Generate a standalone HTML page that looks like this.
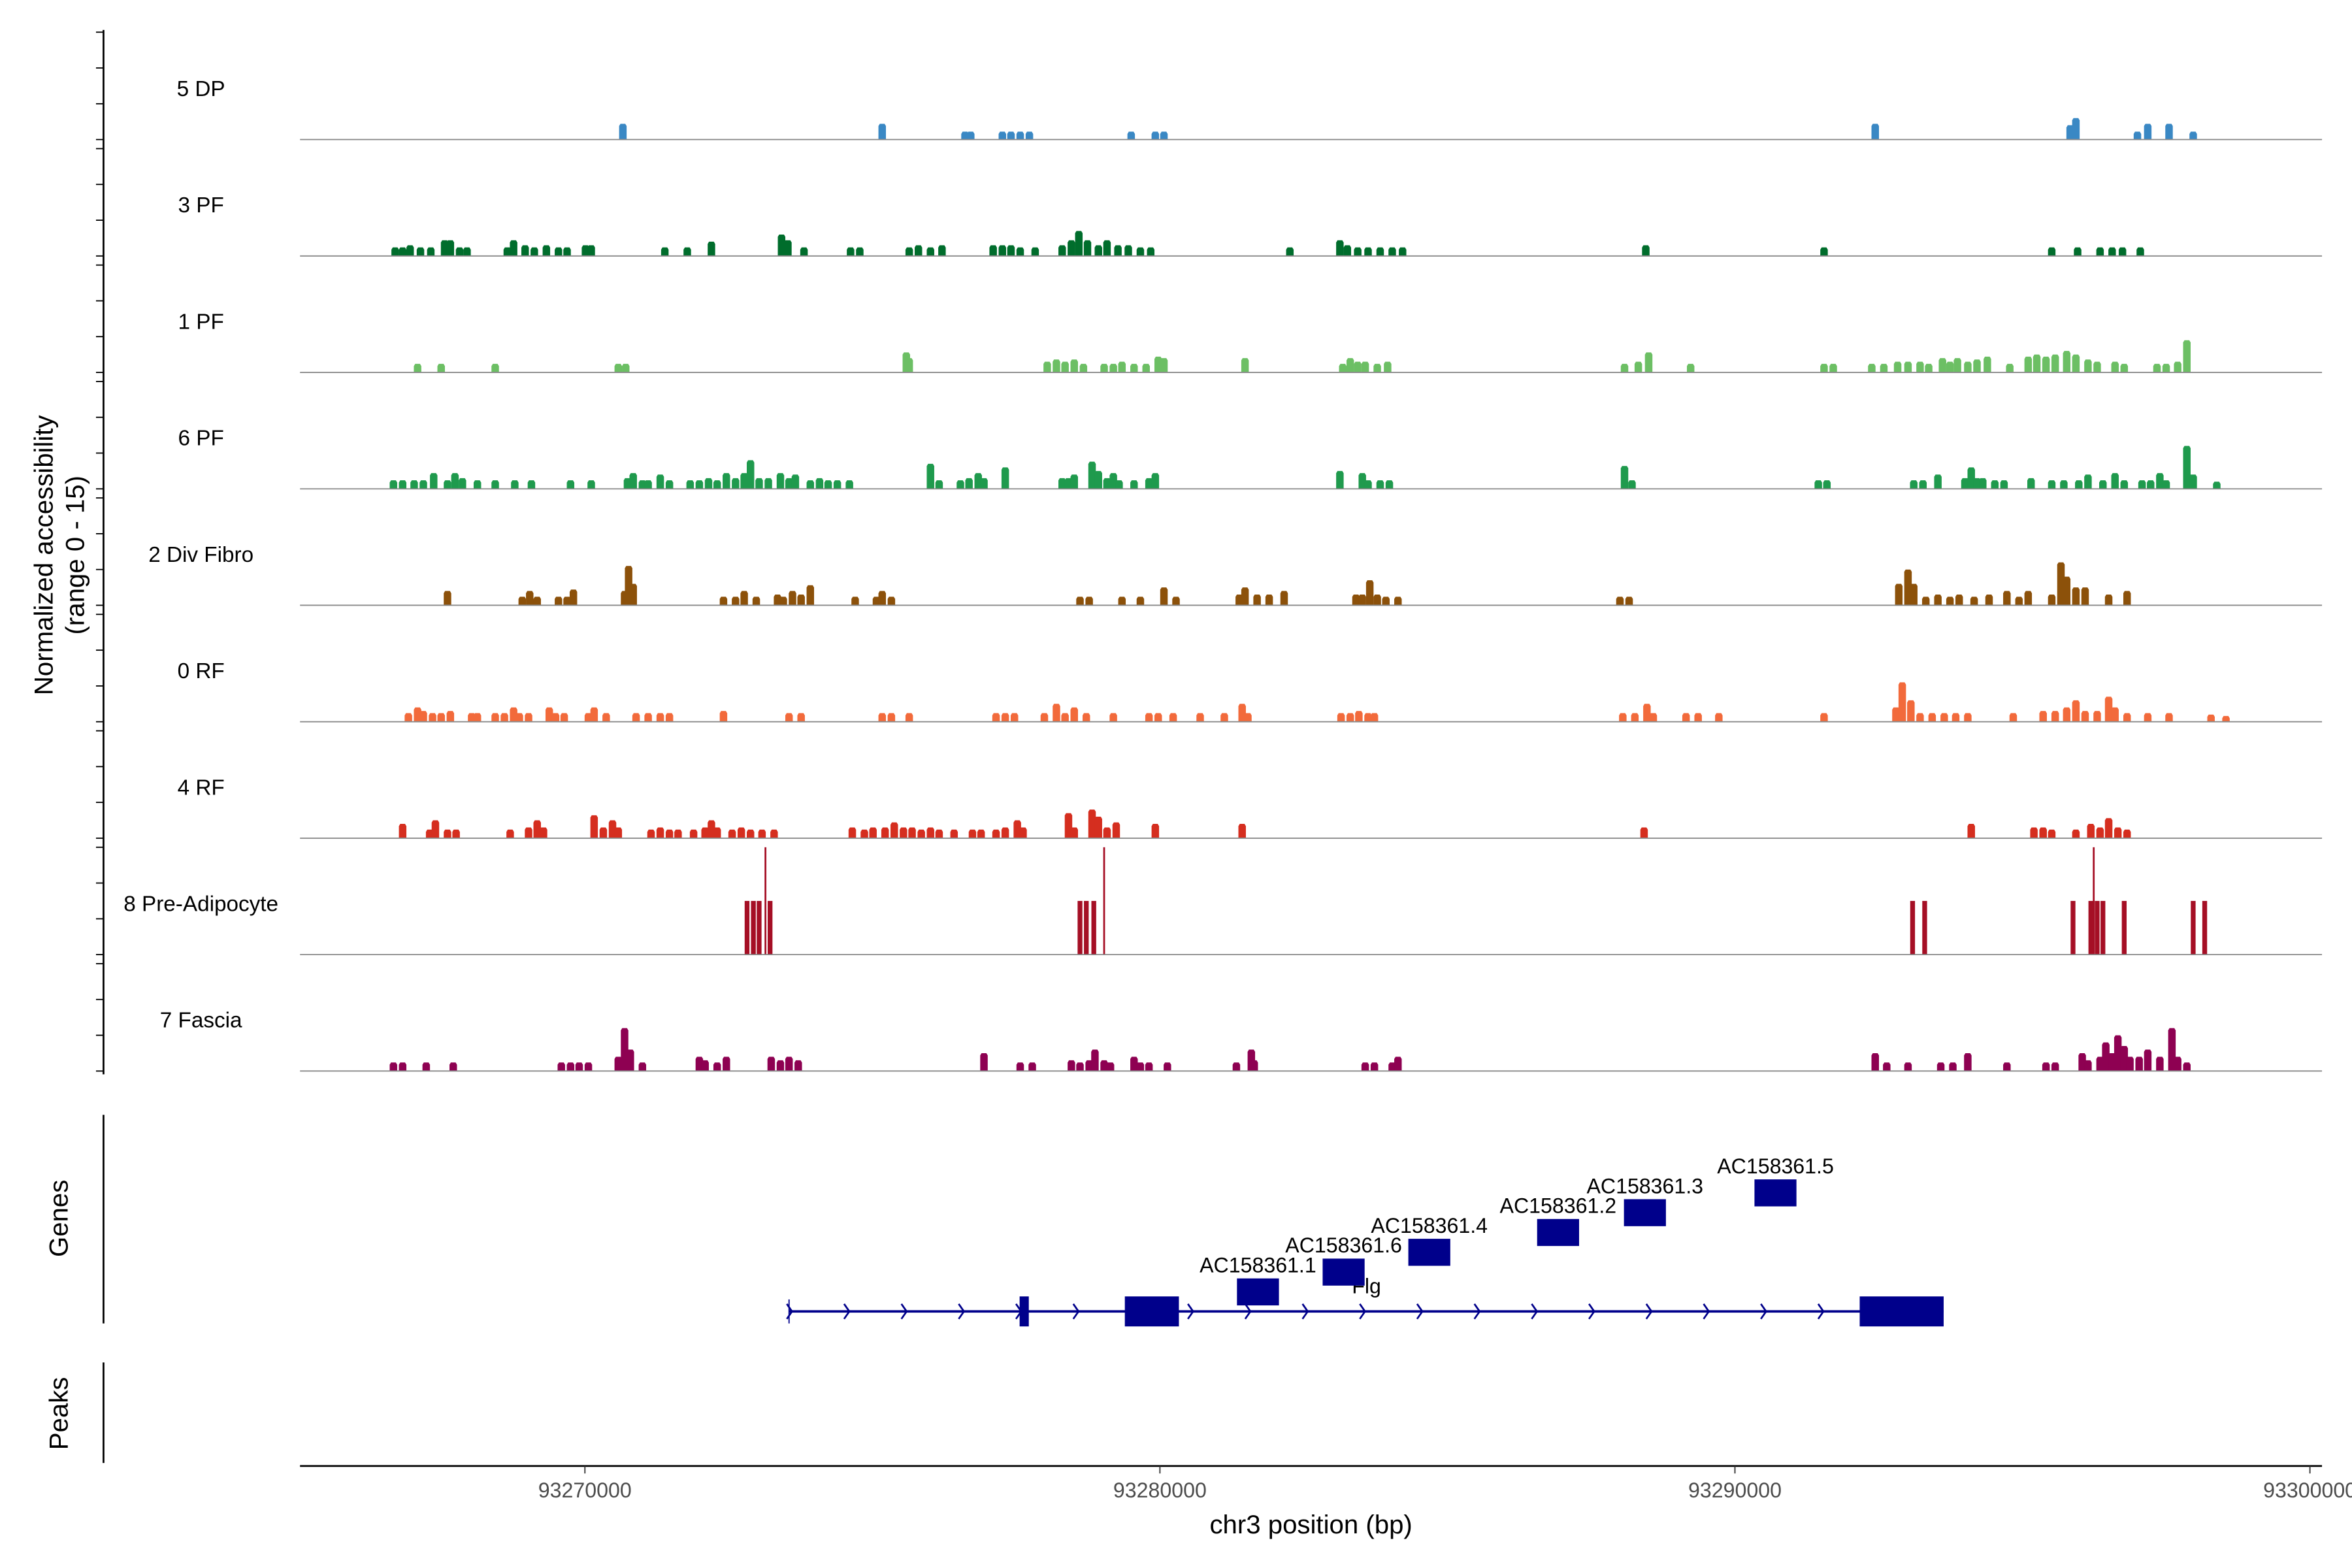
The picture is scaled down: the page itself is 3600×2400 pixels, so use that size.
<!DOCTYPE html>
<html><head><meta charset="utf-8"><style>
html,body{margin:0;padding:0;background:#fff;}
svg{display:block;font-family:"Liberation Sans",Arial,sans-serif;}
</style></head><body>
<svg id="chart" width="3600" height="2400" viewBox="0 0 1568 1045" preserveAspectRatio="none" xmlns="http://www.w3.org/2000/svg">
<g id="tracks"></g>
<g id="genes"></g>
<g id="axes"></g>
</svg>
<script>
// genomic origin (kb offsets are relative to this coordinate)
const originBp = 93265000;
const xDomain = [93265045, 93300210];
const trackNames = ["5 DP","3 PF","1 PF","6 PF","2 Div Fibro","0 RF","4 RF","8 Pre-Adipocyte","7 Fascia"];
const trackColors = ["#3a88c4","#006d2c","#6cbf64","#1f9a4d","#8c510a","#f26a3b","#d52e1f","#a50f25","#8e0152"];
// each track: offsets (kb) and heights (0-15 scale)
const dpPos=[5.66,10.17,11.61,11.71,12.26,12.41,12.57,12.73,14.50,14.92,15.07,27.44,30.83,30.93,32.0,32.18,32.55,32.97];
const dpVal=[2.2,2.2,1.1,1.1,1.1,1.1,1.1,1.1,1.1,1.1,1.1,2.2,2.0,3.0,1.1,2.2,2.2,1.1];
const pf3Pos=[1.70,1.83,1.96,2.14,2.32,2.56,2.66,2.82,2.95,3.65,3.76,3.96,4.12,4.33,4.54,4.69,5.01,5.11,6.39,6.78,7.20,8.42,8.53,8.81,9.62,9.78,10.64,10.80,11.01,11.21,12.10,12.26,12.41,12.57,12.83,13.30,13.46,13.59,13.74,13.93,14.08,14.27,14.45,14.66,14.84,17.26,18.13,18.26,18.44,18.62,18.83,19.04,19.22,23.45,26.55,30.51,30.96,31.35,31.56,31.74,32.05];
const pf3Val=[1.2,1.2,1.5,1.2,1.2,2.2,2.2,1.2,1.2,1.2,2.2,1.5,1.2,1.5,1.2,1.2,1.5,1.5,1.2,1.2,2.0,3.0,2.2,1.2,1.2,1.2,1.2,1.5,1.2,1.5,1.5,1.5,1.5,1.2,1.2,1.5,2.2,3.5,2.2,1.5,2.2,1.5,1.5,1.2,1.2,1.2,2.2,1.5,1.2,1.2,1.2,1.2,1.2,1.5,1.2,1.2,1.2,1.2,1.2,1.2,1.2];
const pf1Pos=[2.09,2.50,3.44,5.58,5.71,10.59,10.64,13.04,13.20,13.35,13.51,13.67,14.03,14.19,14.34,14.55,14.76,14.97,15.07,16.48,18.18,18.31,18.44,18.57,18.78,18.96,23.08,23.32,23.50,24.23,26.55,26.71,27.38,27.59,27.83,28.01,28.22,28.37,28.61,28.74,28.87,29.05,29.21,29.39,29.78,30.10,30.25,30.41,30.57,30.77,30.93,31.14,31.30,31.61,31.77,32.34,32.50,32.70,32.86];
const pf1Val=[1.2,1.2,1.2,1.2,1.2,2.8,2.0,1.5,1.8,1.5,1.8,1.2,1.2,1.2,1.5,1.2,1.2,2.2,2.0,2.0,1.2,2.0,1.5,1.5,1.2,1.5,1.2,1.5,2.8,1.2,1.2,1.2,1.2,1.2,1.5,1.5,1.5,1.2,2.0,1.5,2.0,1.5,1.8,2.2,1.2,2.2,2.5,2.2,2.5,3.0,2.5,1.8,1.5,1.5,1.2,1.2,1.2,1.5,4.5];
const pf6Pos=[1.67,1.83,2.03,2.19,2.37,2.61,2.74,2.87,3.13,3.44,3.78,4.07,4.75,5.11,5.74,5.84,6.00,6.10,6.31,6.47,6.83,6.99,7.15,7.30,7.46,7.62,7.77,7.88,8.03,8.19,8.40,8.55,8.66,8.92,9.08,9.23,9.39,9.60,11.01,11.16,11.53,11.68,11.84,11.94,12.31,13.30,13.41,13.51,13.82,13.93,14.08,14.19,14.29,14.55,14.81,14.92,18.13,18.52,18.62,18.83,18.99,23.08,23.21,26.45,26.60,28.11,28.27,28.53,29.00,29.11,29.21,29.31,29.52,29.68,30.15,30.51,30.72,30.98,31.14,31.40,31.61,31.77,32.08,32.23,32.39,32.50,32.86,32.97,33.38];
const pf6Val=[1.2,1.2,1.2,1.2,2.2,1.2,2.2,1.5,1.2,1.2,1.2,1.2,1.2,1.2,1.5,2.2,1.2,1.2,2.0,1.2,1.2,1.2,1.5,1.2,2.2,1.5,2.2,4.0,1.5,1.5,2.2,1.5,2.0,1.2,1.5,1.2,1.2,1.2,3.5,1.2,1.2,1.5,2.2,1.5,3.0,1.5,1.5,2.0,3.8,2.5,1.5,2.2,1.2,1.2,1.5,2.2,2.5,2.2,1.2,1.2,1.2,3.2,1.2,1.2,1.2,1.2,1.2,2.0,1.5,3.0,1.5,1.5,1.2,1.2,1.5,1.2,1.2,1.2,2.0,1.2,2.2,1.2,1.2,1.2,2.2,1.2,6.0,2.0,1.0];
const divPos=[2.61,3.91,4.04,4.17,4.54,4.69,4.80,5.69,5.76,5.84,7.41,7.62,7.77,7.98,8.35,8.45,8.61,8.76,8.92,9.70,10.07,10.17,10.33,13.61,13.77,14.34,14.66,15.07,15.28,16.38,16.48,16.69,16.90,17.16,18.41,18.52,18.65,18.78,18.93,19.14,23.00,23.16,27.85,28.01,28.11,28.32,28.53,28.74,28.90,29.16,29.42,29.73,29.94,30.10,30.51,30.67,30.77,30.93,31.09,31.50,31.82];
const divVal=[2.0,1.2,2.0,1.2,1.2,1.2,2.2,2.0,5.5,3.0,1.2,1.2,2.0,1.2,1.5,1.2,2.0,1.5,2.8,1.2,1.2,2.0,1.2,1.2,1.2,1.2,1.2,2.5,1.2,1.5,2.5,1.5,1.5,2.0,1.5,1.5,3.5,1.5,1.2,1.2,1.2,1.2,3.0,5.0,3.0,1.2,1.5,1.2,1.5,1.2,1.5,2.0,1.2,2.0,1.5,6.0,4.0,2.5,2.5,1.5,2.0];
const rf0Pos=[1.93,2.09,2.19,2.35,2.50,2.66,3.03,3.13,3.44,3.60,3.76,3.86,4.02,4.38,4.49,4.64,5.06,5.16,5.37,5.89,6.10,6.31,6.47,7.41,8.55,8.76,10.17,10.33,10.64,12.15,12.31,12.47,12.99,13.20,13.35,13.51,13.72,14.19,14.81,14.97,15.23,15.70,16.12,16.43,16.53,18.15,18.31,18.46,18.62,18.73,23.05,23.26,23.47,23.58,24.15,24.36,24.72,26.55,27.80,27.91,28.06,28.22,28.43,28.64,28.84,29.05,29.84,30.36,30.57,30.77,30.93,31.09,31.30,31.50,31.61,31.82,32.18,32.55,33.28,33.54];
const rf0Val=[1.2,2.0,1.5,1.2,1.2,1.5,1.2,1.2,1.2,1.2,2.0,1.2,1.2,2.0,1.2,1.2,1.2,2.0,1.2,1.2,1.2,1.2,1.2,1.5,1.2,1.2,1.2,1.2,1.2,1.2,1.2,1.2,1.2,2.5,1.2,2.0,1.2,1.2,1.2,1.2,1.2,1.2,1.2,2.5,1.2,1.2,1.2,1.5,1.2,1.2,1.2,1.2,2.5,1.2,1.2,1.2,1.2,1.2,2.0,5.5,3.0,1.2,1.2,1.2,1.2,1.2,1.2,1.5,1.5,2.0,3.0,1.5,1.5,3.5,2.0,1.2,1.2,1.2,1.0,0.8];
const rf4Pos=[1.83,2.30,2.40,2.61,2.76,3.70,4.02,4.17,4.28,5.16,5.32,5.48,5.58,6.15,6.31,6.47,6.62,6.89,7.09,7.20,7.30,7.56,7.72,7.88,8.08,8.29,9.65,9.86,10.01,10.22,10.38,10.54,10.69,10.85,11.01,11.16,11.42,11.74,11.89,12.15,12.31,12.52,12.62,13.41,13.51,13.82,13.93,14.08,14.24,14.92,16.43,23.42,29.11,30.20,30.36,30.51,30.93,31.19,31.35,31.50,31.66,31.82];
const rf4Val=[2.0,1.2,2.5,1.2,1.2,1.2,1.5,2.5,1.5,3.2,1.5,2.5,1.5,1.2,1.5,1.2,1.2,1.2,1.5,2.5,1.5,1.2,1.5,1.2,1.2,1.2,1.5,1.2,1.5,1.5,2.2,1.5,1.5,1.2,1.5,1.2,1.2,1.2,1.2,1.2,1.5,2.5,1.5,3.5,1.5,4.0,3.0,1.5,2.2,2.0,2.0,1.5,2.0,1.5,1.5,1.2,1.2,2.0,1.5,2.8,1.5,1.2];
const preAdPos=[7.82,7.93,8.03,8.14,8.22,13.61,13.72,13.85,14.03,28.09,28.30,30.88,31.19,31.24,31.30,31.40,31.77,32.97,33.17];
const preAdVal=[7.5,7.5,7.5,15,7.5,7.5,7.5,7.5,15,7.5,7.5,7.5,7.5,15,7.5,7.5,7.5,7.5,7.5];
const fasPos=[1.67,1.83,2.24,2.71,4.59,4.75,4.90,5.06,5.58,5.69,5.79,6.00,6.99,7.09,7.30,7.46,8.24,8.40,8.55,8.71,11.94,12.57,12.78,13.46,13.61,13.77,13.87,14.03,14.14,14.55,14.66,14.81,15.13,16.33,16.59,16.64,18.57,18.73,19.04,19.14,27.44,27.64,28.01,28.58,28.79,29.05,29.73,30.41,30.57,31.04,31.14,31.35,31.45,31.56,31.66,31.77,31.87,32.03,32.18,32.39,32.60,32.70,32.86];
const fasVal=[1.2,1.2,1.2,1.2,1.2,1.2,1.2,1.2,2.0,6.0,3.0,1.2,2.0,1.5,1.2,2.0,2.0,1.5,2.0,1.5,2.5,1.2,1.2,1.5,1.2,1.5,3.0,1.5,1.2,2.0,1.2,1.2,1.2,1.2,3.0,1.5,1.2,1.2,1.2,2.0,2.5,1.2,1.2,1.2,1.2,2.5,1.2,1.2,1.2,2.5,1.5,2.0,4.0,2.5,5.0,3.5,2.0,2.0,3.0,2.0,6.0,2.0,1.2];
const trackPos=[dpPos,pf3Pos,pf1Pos,pf6Pos,divPos,rf0Pos,rf4Pos,preAdPos,fasPos];
const trackVal=[dpVal,pf3Val,pf1Val,pf6Val,divVal,rf0Val,rf4Val,preAdVal,fasVal];
// genes (bp)
const geneNames=["AC158361.1","AC158361.6","AC158361.4","AC158361.2","AC158361.3","AC158361.5"];
const geneStart=[93281340,93282830,93284320,93286560,93288070,93290340];
const geneEnd=[93282070,93283560,93285050,93287290,93288800,93291070];
const flgStart=93273550, flgEnd=93293630;
const flgExonStart=[93277560,93279390,93292170];
const flgExonEnd=[93277720,93280330,93293630];
const xTicks=[93270000,93280000,93290000,93300000];

const NS="http://www.w3.org/2000/svg";
const X0=200,X1=1548;
function xs(bp){return X0+(bp-xDomain[0])/(xDomain[1]-xDomain[0])*(X1-X0);}
const baseY0=93, trackStep=77.6, unitPx=4.77;
function ys(i,v){return baseY0+i*trackStep - v*unitPx;}
function mk(tag,attrs,parent){const e=document.createElementNS(NS,tag);for(const k in attrs)e.setAttribute(k,attrs[k]);parent.appendChild(e);return e;}
const gT=document.getElementById('tracks'), gG=document.getElementById('genes'), gA=document.getElementById('axes');

trackNames.forEach((name,i)=>{
  const base=ys(i,0);
  const g=mk('g',{},gT);
  
  
  const lab=mk('text',{x:134,y:base-29,'text-anchor':'middle','font-size':14.5,fill:'#000'},g);
  lab.textContent=name;
  
  
  const pos=trackPos[i], val=trackVal[i];
  pos.forEach((off,j)=>{
    const bp=originBp+off*1000, v=val[j];
    const cx=xs(bp), top=ys(i,v);
    let el;
    if(i===7){
      const w = v>10?1.2:3.2;
      el=mk('rect',{x:cx-w/2,y:top,width:w,height:base-top,fill:trackColors[i]},g);
    } else {
      const hw=2.5, tw=1.6;
      el=mk('polygon',{points:`${cx-hw},${base} ${cx-hw},${top+1.5} ${cx-tw},${top} ${cx+tw},${top} ${cx+hw},${top+1.5} ${cx+hw},${base}`,fill:trackColors[i]},g);
    }
    
    
  });
  const bl=mk('line',{x1:X0,x2:X1,y1:base,y2:base,stroke:'#8a8a8a','stroke-width':0.8},g);
  
  
  for(let k=0;k<=3;k++){
    const t=mk('line',{x1:64,x2:69,y1:ys(i,k*5),y2:ys(i,k*5),stroke:'#000','stroke-width':0.8},gA);
    
    
  }
});
let ax=mk('line',{x1:69,x2:69,y1:20,y2:716,stroke:'#000','stroke-width':1.2},gA);


let yt=mk('text',{transform:'translate(35,370) rotate(-90)','text-anchor':'middle','font-size':17.5},gA);
yt.textContent='Normalized accessibility';


let yt2=mk('text',{transform:'translate(56,370) rotate(-90)','text-anchor':'middle','font-size':17.5},gA);
yt2.textContent='(range 0 - 15)';



let gl=mk('line',{x1:69,x2:69,y1:743,y2:882,stroke:'#000','stroke-width':1.2},gG);


let gt=mk('text',{transform:'translate(45,812) rotate(-90)','text-anchor':'middle','font-size':17.5},gG);
gt.textContent='Genes';


const navy='#00008b';
const ty=874;
let tl=mk('line',{x1:xs(flgStart),x2:xs(flgEnd),y1:ty,y2:ty,stroke:navy,'stroke-width':1.6},gG);


let tk=mk('line',{x1:xs(flgStart),x2:xs(flgStart),y1:ty-8,y2:ty+8,stroke:navy,'stroke-width':0.8},gG);


for(let a=xs(flgStart)+0.5;a<xs(flgEnd)-10;a+=38.2){
  const ch=mk('polyline',{points:`${a-2},${ty-5} ${a+1.5},${ty} ${a-2},${ty+5}`,fill:'none',stroke:navy,'stroke-width':1.2},gG);
  
  
}
flgExonStart.forEach((s,j)=>{
  const r=mk('rect',{x:xs(s),y:ty-10,width:Math.max(xs(flgExonEnd[j])-xs(s),4),height:20,fill:navy},gG);
  
  
});
let fl=mk('text',{x:911,y:862,'text-anchor':'middle','font-size':14},gG);
fl.textContent='Flg';


geneNames.forEach((n,j)=>{
  const yTop=852-j*13.2;
  const r=mk('rect',{x:xs(geneStart[j]),y:yTop,width:xs(geneEnd[j])-xs(geneStart[j]),height:18,fill:navy},gG);
  
  
  const t=mk('text',{x:(xs(geneStart[j])+xs(geneEnd[j]))/2,y:yTop-4,'text-anchor':'middle','font-size':14},gG);
  t.textContent=n;
  
  
});
let pl=mk('line',{x1:69,x2:69,y1:908,y2:975,stroke:'#000','stroke-width':1.2},gA);


let pt=mk('text',{transform:'translate(45,942) rotate(-90)','text-anchor':'middle','font-size':17.5},gA);
pt.textContent='Peaks';


let xl=mk('line',{x1:X0,x2:X1,y1:977,y2:977,stroke:'#000','stroke-width':1.2},gA);


xTicks.forEach(v=>{
  const x=xs(v);
  const t=mk('line',{x1:x,x2:x,y1:977,y2:982,stroke:'#333','stroke-width':0.8},gA);
  
  
  const l=mk('text',{x:x,y:998,'text-anchor':'middle','font-size':14,fill:'#4d4d4d'},gA);
  l.textContent=String(v);
  
  
});
let xt=mk('text',{x:874,y:1022,'text-anchor':'middle','font-size':17.5},gA);
xt.textContent='chr3 position (bp)';


</script>
</body></html>
